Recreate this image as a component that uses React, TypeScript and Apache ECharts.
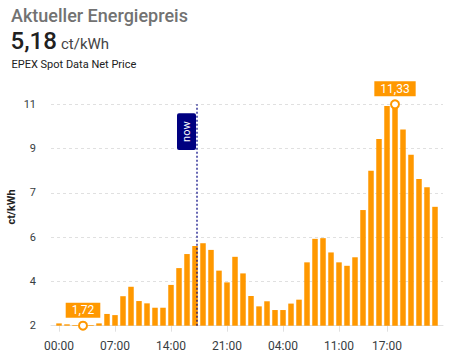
import React, { useEffect, useRef } from "react";
import * as echarts from "echarts";

// ---- data ----
const hourLabels: string[] = [
  "00:00", "01:00", "02:00", "03:00", "04:00", "05:00", "06:00", "07:00",
  "08:00", "09:00", "10:00", "11:00", "12:00", "13:00", "14:00", "15:00",
  "16:00", "17:00", "18:00", "19:00", "20:00", "21:00", "22:00", "23:00",
  "00:00", "01:00", "02:00", "03:00", "04:00", "05:00", "06:00", "07:00",
  "08:00", "09:00", "10:00", "11:00", "12:00", "13:00", "14:00", "15:00",
  "16:00", "17:00", "18:00", "19:00", "20:00", "21:00", "22:00", "23:00",
];
const prices: number[] = [
  1.82, 1.78, 1.75, 1.72, 1.75, 1.82, 2.23, 2.18,
  3.0, 3.41, 2.79, 2.69, 2.5, 2.5, 3.49, 4.22,
  4.83, 5.18, 5.3, 5.01, 4.11, 3.6, 4.71, 3.99,
  3.01, 2.56, 2.78, 2.4, 2.4, 2.68, 2.85, 4.47,
  5.49, 5.52, 4.9, 4.47, 4.32, 4.69, 6.74, 8.45,
  9.82, 11.26, 11.33, 10.24, 9.14, 8.09, 7.73, 6.88,
];
const xTickIndices: number[] = [0, 7, 14, 21, 28, 35, 41];
const yTickLabels: string[] = ["2", "4", "6", "7", "9", "11"];
const nowPosition = 17.25;
const currentPrice = "5,18";
const unit = "ct/kWh";
const titleText = "Aktueller Energiepreis";
const subtitleText = "EPEX Spot Data Net Price";
const nowLabel = "now";

const fmt = (v: number) => v.toFixed(2).replace(".", ",");

export default function App() {
  const ref = useRef<HTMLDivElement>(null);
  useEffect(() => {
    if (!ref.current) return;
    const chart = echarts.init(ref.current, undefined, { renderer: "svg" });
    const yMin = Math.min(...prices);
    const yMax = Math.max(...prices);
    const minIdx = prices.indexOf(yMin);
    const maxIdx = prices.indexOf(yMax);
    const step = (yMax - yMin) / (yTickLabels.length - 1);
    const yTicks = yTickLabels.map((_, i) => yMin + i * step);
    const labelColor = "#373d3f";
    const font = "Roboto";
    const orange = "#FF9800";

    chart.setOption({
      animation: false,
      backgroundColor: "#fff",
      textStyle: { fontFamily: font },
      grid: { left: 51, right: 9, top: 104.3, bottom: 35.3 },
      xAxis: {
        type: "value",
        min: -1,
        max: hourLabels.length,
        axisLine: { show: true, lineStyle: { color: "#e0e0e0", width: 1 } },
        axisTick: {
          show: true,
          length: 6,
          lineStyle: { color: "#e0e0e0" },
          customValues: xTickIndices,
        },
        axisLabel: {
          customValues: xTickIndices,
          formatter: (v: number) => hourLabels[Math.round(v)] ?? "",
          color: labelColor,
          fontSize: 12,
          fontFamily: font,
          margin: 14,
        },
        splitLine: { show: false },
      },
      yAxis: {
        type: "value",
        min: yMin,
        max: yMax,
        axisLine: { show: false },
        axisTick: { show: false, customValues: yTicks },
        axisLabel: {
          customValues: yTicks,
          formatter: (v: number) => yTickLabels[Math.round((v - yMin) / step)] ?? "",
          color: labelColor,
          fontSize: 11,
          fontFamily: font,
          margin: 15,
        },
        splitLine: {
          show: true,
          lineStyle: { color: "#e0e0e0", type: [3, 3], width: 1 },
        },
      },
      graphic: [
        {
          type: "text",
          x: 11,
          y: 15.5,
          style: {
            text: titleText,
            fill: "#727272",
            fontSize: 18,
            fontWeight: 500,
            fontFamily: font,
            verticalAlign: "middle",
            align: "left",
          },
        },
        {
          type: "text",
          x: 10.5,
          y: 40.5,
          style: {
            text: currentPrice,
            fill: "#212121",
            fontSize: 24,
            fontWeight: 500,
            fontFamily: font,
            verticalAlign: "middle",
            align: "left",
          },
        },
        {
          type: "text",
          x: 61,
          y: 44,
          style: {
            text: unit,
            fill: "#444",
            fontSize: 15,
            fontFamily: font,
            verticalAlign: "middle",
            align: "left",
          },
        },
        {
          type: "text",
          x: 11.5,
          y: 64,
          style: {
            text: subtitleText,
            fill: "#212121",
            fontSize: 11,
            fontFamily: font,
            verticalAlign: "middle",
            align: "left",
          },
        },
        {
          type: "text",
          x: 11,
          y: 207,
          rotation: Math.PI / 2,
          style: {
            text: unit,
            fill: "#222",
            fontSize: 11,
            fontWeight: "bold",
            fontFamily: font,
            verticalAlign: "middle",
            align: "center",
          },
        },
      ],
      series: [
        {
          type: "bar",
          data: prices.map((v, i) => [i, v]),
          barWidth: 5.5,
          itemStyle: { color: orange },
          markLine: {
            silent: true,
            symbol: "none",
            data: [{ xAxis: nowPosition }],
            lineStyle: { color: "rgba(0,0,128,0.6)", type: [2, 2], width: 2 },
            label: {
              show: true,
              formatter: nowLabel,
              position: "insideEndTop",
              backgroundColor: "#000080",
              color: "#fff",
              fontSize: 11,
              fontFamily: font,
              padding: [4, 8],
              borderRadius: 2,
              distance: [9, 1],
            },
          },
          markPoint: {
            symbol: "circle",
            symbolSize: 8,
            itemStyle: { color: "#fff", borderColor: orange, borderWidth: 2 },
            label: {
              show: true,
              position: "top",
              distance: 3,
              color: "#fff",
              backgroundColor: orange,
              padding: [1.5, 6],
              lineHeight: 12,
              fontSize: 12,
              fontFamily: font,
              formatter: (p: any) => fmt(p.value),
            },
            data: [
              { coord: [minIdx, yMin], value: yMin },
              { coord: [maxIdx, yMax], value: yMax },
            ],
          },
        },
      ],
    });
    return () => chart.dispose();
  }, []);
  return (
    <div
      ref={ref}
      style={{ position: "fixed", left: 0, top: 0, width: 452, height: 361, background: "#fff" }}
    />
  );
}
